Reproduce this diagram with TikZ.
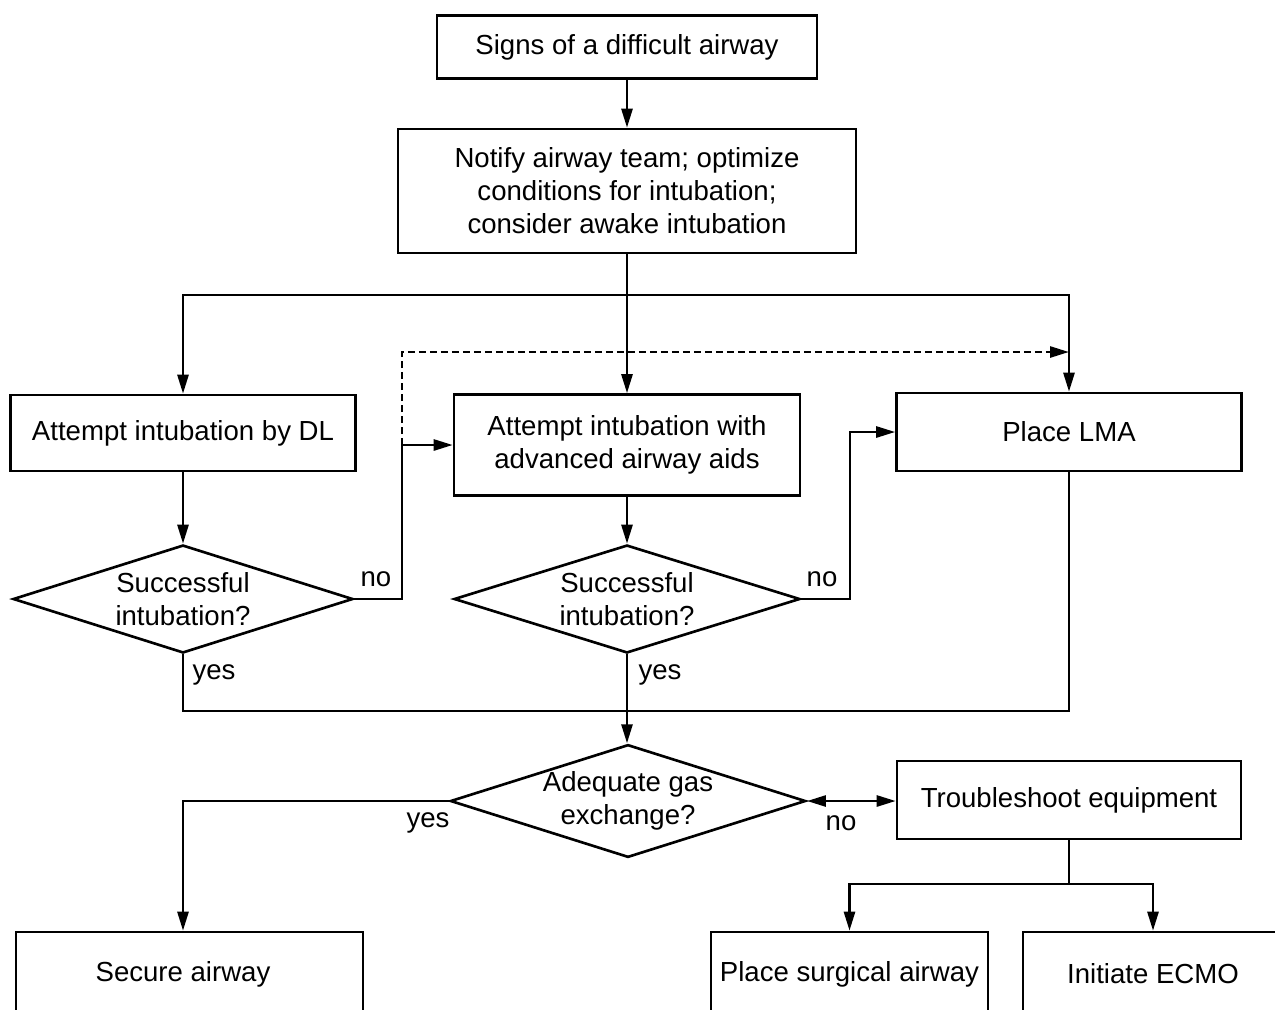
\documentclass[tikz,border=0pt]{standalone}
\usepackage{fontspec}
\setmainfont{Liberation Sans}
\usetikzlibrary{arrows.meta,shapes.geometric}
\begin{document}
\begin{tikzpicture}[x=0.02cm,y=-0.02cm,
  line width=1.5pt,
  every node/.style={font=\fontsize{15.7}{18.8}\selectfont},
  box/.style={draw,rectangle,align=center,inner sep=2pt,line width=1.5pt},
  dec/.style={draw,diamond,align=center,inner sep=0pt,aspect=3.15,line width=1.5pt},
  lbl/.style={inner sep=0pt},
  arr/.style={-{Triangle[length=0.38cm,width=0.22cm]}},
  darr/.style={{Triangle[length=0.38cm,width=0.22cm]}-{Triangle[length=0.38cm,width=0.22cm]}},
  dash line/.style={dash pattern=on 0.14cm off 0.08cm}]
\useasboundingbox (0,0) rectangle (1275,1009);
\clip (0,0) rectangle (1275,1009);

\node[box,minimum width=7.6cm,minimum height=1.26cm] (b1) at (627,47) {Signs of a difficult airway};
\node[box,minimum width=9.16cm,minimum height=2.48cm] (b2) at (627,191) {Notify airway team; optimize\\conditions for intubation;\\consider awake intubation};
\node[box,minimum width=6.9cm,minimum height=1.52cm] (dl) at (183,433) {Attempt intubation by DL};
\node[box,minimum width=6.92cm,minimum height=2.02cm] (adv) at (627,445) {Attempt intubation with\\advanced airway aids};
\node[box,minimum width=6.9cm,minimum height=1.56cm] (lma) at (1069,432) {Place LMA};
\node[dec,minimum width=6.8cm,minimum height=2.16cm] (d1) at (183,599) {Successful\\intubation?};
\node[dec,minimum width=6.92cm,minimum height=2.16cm] (d2) at (627,599) {Successful\\intubation?};
\node[dec,minimum width=6.86cm,minimum height=2.16cm] (d3) at (628,801) {Adequate gas\\exchange?};
\node[box,minimum width=6.88cm,minimum height=1.56cm] (tr) at (1069,800) {Troubleshoot equipment};
\node[box,minimum width=6.94cm,minimum height=1.68cm] (sec) at (189.5,974) {Secure airway\hspace{0.26cm}};
\node[box,minimum width=5.54cm,minimum height=1.68cm] (sur) at (849.5,974) {Place surgical airway};
\node[box,minimum width=5.2cm,minimum height=1.68cm] (ecmo) at (1153,974) {Initiate ECMO};

\node[lbl] (l1) at (376,579) {no};
\node[lbl] (l2) at (214,675) {yes};
\node[lbl] (l3) at (822,579) {no};
\node[lbl] (l4) at (660,675) {yes};
\node[lbl] (l5) at (428,823) {yes};
\node[lbl] (l6) at (841,823) {no};

\coordinate (split) at (627,295);
\coordinate (n1) at (402,599);
\coordinate (n2) at (850,599);
\coordinate (dtop) at (402,352);
\coordinate (join) at (627,711);
\coordinate (tsplit) at (1069,884);
\coordinate (yesx) at (183,801);

\draw[arr] (b1) -- (b2);
\draw[arr] (b2) -- (adv);
\draw[arr] (split) -| (dl.north);
\draw[arr] (split) -| (lma.north);
\draw[arr] (dl) -- (d1);
\draw[arr] (d1.east) -- (n1) |- (adv.west);
\draw[arr,dash line] (n1 |- adv.west) -- (dtop) -- (lma.north |- dtop);
\draw[arr] (adv) -- (d2);
\draw[arr] (d2.east) -- (n2) |- (lma.west);
\draw (d1.south) |- (lma.south |- join) -- (lma.south);
\draw[arr] (d2.south) -- (d2.south |- d3.north);
\draw[arr] (d3.west) -- (yesx) -- (yesx |- sec.north);
\draw[darr] (d3.east) -- (tr.west |- d3.east);
\draw (tr.south) -- (tsplit);
\draw[arr] (tsplit) -| (sur.north);
\draw[arr] (tsplit) -| (ecmo.north);
\end{tikzpicture}
\end{document}
